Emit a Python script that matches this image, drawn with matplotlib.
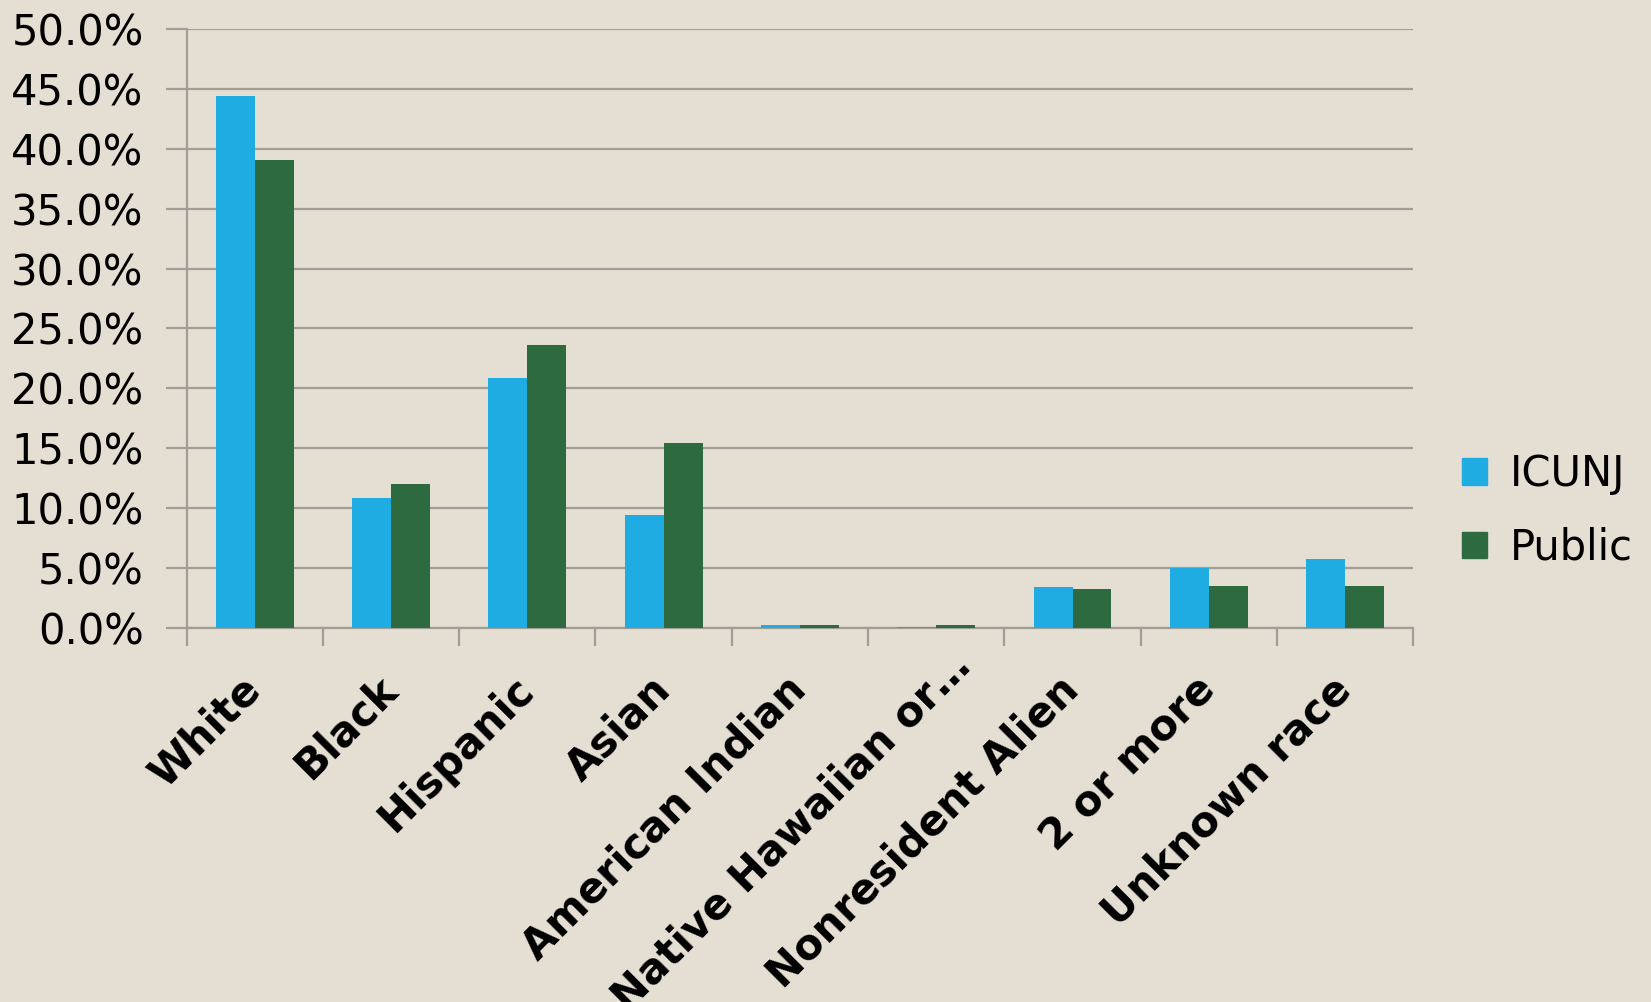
import numpy as np
import matplotlib.pyplot as plt
from matplotlib.ticker import FuncFormatter, MultipleLocator, FixedLocator
from matplotlib.patches import Patch
from matplotlib.transforms import ScaledTranslation

categories = ["White", "Black", "Hispanic", "Asian", "American Indian",
              "Native Hawaiian or\u2026", "Nonresident Alien", "2 or more", "Unknown race"]
icunj = [44.4, 10.8, 20.9, 9.4, 0.2, 0.08, 3.4, 5.0, 5.7]
public = [39.1, 12.0, 23.6, 15.4, 0.2, 0.2, 3.2, 3.5, 3.5]

bg = "#E4DED3"
c_icunj = "#1EACE3"
c_public = "#2E6A3F"
grid_c = "#A19E98"

plt.rcParams['font.family'] = ['DejaVu Sans']

fig = plt.figure(figsize=(16.51, 10.02), dpi=100, facecolor=bg)
ax = fig.add_axes([0.113, 0.3737, 0.743, 0.597])
ax.set_facecolor(bg)

x = np.arange(len(categories))
w = 0.286
ax.bar(x - w / 2, icunj, w, color=c_icunj, zorder=3)
ax.bar(x + w / 2, public, w, color=c_public, zorder=3)

ax.set_xlim(-0.5, len(categories) - 0.5)
ax.set_ylim(0, 50)
ax.yaxis.set_major_locator(MultipleLocator(5))
ax.yaxis.set_major_formatter(FuncFormatter(lambda v, p: f"{v:.1f}%"))
ax.grid(axis='y', color=grid_c, linewidth=1.6, zorder=0)

for s in ["top", "right"]:
    ax.spines[s].set_visible(False)
for s in ["left", "bottom"]:
    ax.spines[s].set_color(grid_c)
    ax.spines[s].set_linewidth(1.6)

ax.tick_params(axis='y', length=15, width=1.6, color=grid_c, labelsize=30, pad=16)
ax.xaxis.set_major_locator(FixedLocator(np.arange(-0.5, len(categories), 1)))
ax.xaxis.set_major_formatter(FuncFormatter(lambda v, p: ""))
ax.xaxis.set_minor_locator(FixedLocator(x))
ax.set_xticklabels(categories, minor=True, rotation=45, ha='right', va='center',
                   rotation_mode='anchor', fontsize=30, fontweight='bold')
ax.tick_params(axis='x', which='major', length=13, width=1.6, color=grid_c)
ax.tick_params(axis='x', which='minor', length=0, pad=40)

# the truncated label sits a bit further up/right in the original
lab = ax.get_xticklabels(minor=True)[5]
lab.set_transform(lab.get_transform() + ScaledTranslation(0.28, 0.24, fig.dpi_scale_trans))

handles = [Patch(color=c_icunj, label="ICUNJ"), Patch(color=c_public, label="Public")]
fig.legend(handles=handles, loc='center left', bbox_to_anchor=(0.863, 0.49),
           frameon=False, fontsize=30, handlelength=0.6, handleheight=0.6,
           handletextpad=0.55, labelspacing=0.75)

fig.savefig("out.png", dpi=100, facecolor=bg)
